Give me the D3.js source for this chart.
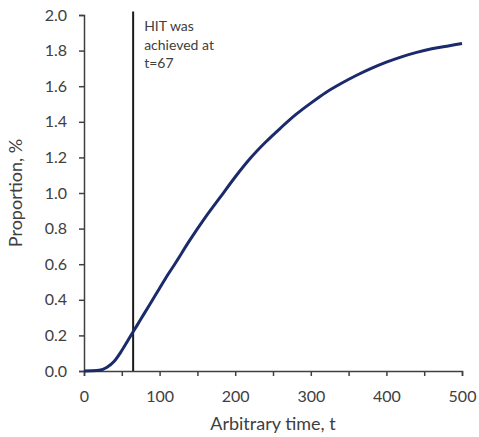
<!DOCTYPE html>
<html>
<head>
<meta charset="utf-8">
<script src="https://cdn.jsdelivr.net/npm/d3@7"></script>
<style>
  body { margin: 0; background: #fff; }
  text { font-family: Lato, "Open Sans", sans-serif; fill: #404040; }
</style>
</head>
<body>
<svg width="479" height="437"></svg>
<script>
(function (d3) {
  'use strict';

  // curve
  const times = [0, 10, 20, 30, 40, 50, 60, 70, 80, 90, 100, 110, 120, 140, 160, 180, 200, 220, 240, 260, 280, 300,
    320, 340, 360, 380, 400, 420, 440, 460, 480, 500];
  const proportion = [0, 0.001, 0.004, 0.02, 0.055, 0.115, 0.185, 0.255, 0.325, 0.395, 0.465, 0.535, 0.60, 0.735, 0.86, 0.975, 1.09, 1.195, 1.285, 1.365, 1.44, 1.505,
    1.565, 1.615, 1.66, 1.70, 1.735, 1.765, 1.79, 1.81, 1.825, 1.84];
  const xTicks = [0, 100, 200, 300, 400, 500];
  const xMinorTicks = [50, 150, 250, 350, 450];
  const yTicks = [0, 0.2, 0.4, 0.6, 0.8, 1.0, 1.2, 1.4, 1.6, 1.8, 2.0];
  const hitTime = 65;
  const hitTop = 2.02;
  const noteLines = ["HIT was", "achieved at", "t=67"];

  const data = times.map((t, i) => ({ t: t, v: proportion[i] }));

  const svg = d3.select("svg");
  const x = d3.scaleLinear().domain([0, 500]).range([84, 462]);
  const y = d3.scaleLinear().domain([0, 2]).range([371, 15]);

  // y axis
  const yAxis = svg.append("g")
      .attr("transform", `translate(${x(0)},0)`)
      .call(d3.axisLeft(y).tickValues(yTicks).tickSize(5).tickPadding(12).tickFormat(d3.format(".1f")));
  yAxis.selectAll("text").style("font-size", "16px");

  // x axis with minor ticks
  const xAxis = svg.append("g")
      .attr("transform", `translate(0,${y(0)})`)
      .call(d3.axisBottom(x).tickValues(xTicks).tickSize(5).tickPadding(15));
  xAxis.selectAll("text").style("font-size", "16px");
  svg.append("g")
      .attr("transform", `translate(0,${y(0)})`)
      .call(d3.axisBottom(x).tickValues(xMinorTicks).tickSize(5).tickFormat(""))
      .select(".domain").remove();

  svg.selectAll(".domain, .tick line").attr("stroke", "#404040").attr("stroke-width", 1.5);

  // HIT marker
  svg.append("line")
      .attr("x1", x(hitTime)).attr("x2", x(hitTime))
      .attr("y1", y(0)).attr("y2", y(hitTop))
      .attr("stroke", "#1a1a1a")
      .attr("stroke-width", 2);

  svg.append("text")
      .attr("x", x(hitTime) + 11)
      .attr("y", 31)
      .style("font-size", "14px")
      .selectAll("tspan").data(noteLines).enter().append("tspan")
      .attr("x", x(hitTime) + 11)
      .attr("dy", (d, i) => i === 0 ? 0 : 18.5)
      .text(d => d);

  // curve
  const line = d3.line().x(d => x(d.t)).y(d => y(d.v)).curve(d3.curveMonotoneX);
  svg.append("path")
      .datum(data)
      .attr("d", line)
      .attr("fill", "none")
      .attr("stroke", "#1b2a6b")
      .attr("stroke-width", 3);

  // axis titles
  svg.append("text")
      .attr("x", (x(0) + x(500)) / 2)
      .attr("y", 430)
      .attr("text-anchor", "middle")
      .style("font-size", "18px")
      .text("Arbitrary time, t");

  svg.append("text")
      .attr("transform", `translate(22,${(y(0) + y(2)) / 2}) rotate(-90)`)
      .attr("text-anchor", "middle")
      .style("font-size", "18px")
      .text("Proportion, %");

}(d3));
</script>
</body>
</html>
